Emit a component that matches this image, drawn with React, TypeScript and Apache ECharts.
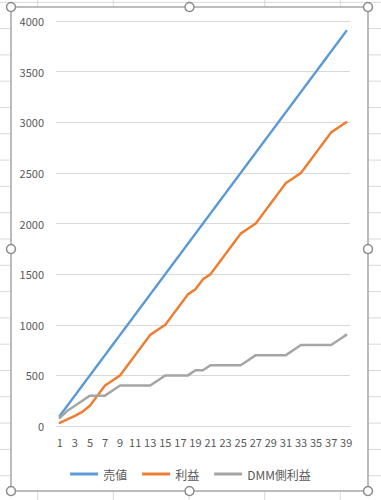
import React, { useEffect, useRef } from "react";
import * as echarts from "echarts";

const categories = ["1","2","3","4","5","6","7","8","9","10","11","12","13","14","15","16","17","18","19","20","21","22","23","24","25","26","27","28","29","30","31","32","33","34","35","36","37","38","39"];
const salesValues = [100,200,300,400,500,600,700,800,900,1000,1100,1200,1300,1400,1500,1600,1700,1800,1900,2000,2100,2200,2300,2400,2500,2600,2700,2800,2900,3000,3100,3200,3300,3400,3500,3600,3700,3800,3900];
const profitValues = [30,65,100,140,200,300,400,450,500,600,700,800,900,950,1000,1100,1200,1300,1350,1450,1500,1600,1700,1800,1900,1950,2000,2100,2200,2300,2400,2450,2500,2600,2700,2800,2900,2950,3000];
const dmmValues = [80,150,200,250,300,300,300,350,400,400,400,400,400,450,500,500,500,500,550,550,600,600,600,600,600,650,700,700,700,700,700,750,800,800,800,800,800,850,900];
const seriesNames = ["売値", "利益", "DMM側利益"];
const seriesColors = ["#5B9BD5", "#ED7D31", "#A5A5A5"];

const FONT = "'Noto Sans CJK JP', 'Noto Sans', sans-serif";

export default function App() {
  const ref = useRef<HTMLDivElement>(null);
  useEffect(() => {
    if (!ref.current) return;
    const chart = echarts.init(ref.current, undefined, { renderer: "svg" });
    const cellLine = "#d9d9d9";
    const graphics: any[] = [];
    const colXs = [37.7, 113.3, 189, 264.7, 340.3];
    colXs.forEach((x) => {
      graphics.push({ type: "line", shape: { x1: x, y1: 0, x2: x, y2: 7 }, style: { stroke: cellLine, lineWidth: 1 }, z: 1 });
      graphics.push({ type: "line", shape: { x1: x, y1: 491, x2: x, y2: 500 }, style: { stroke: cellLine, lineWidth: 1 }, z: 1 });
    });
    graphics.push({ type: "line", shape: { x1: 0, y1: 2.3, x2: 381, y2: 2.3 }, style: { stroke: cellLine, lineWidth: 1 }, z: 1 });
    for (let k = 1; k < 19; k++) {
      const y = 2.3 + 26.3 * k;
      graphics.push({ type: "line", shape: { x1: 0, y1: y, x2: 11, y2: y }, style: { stroke: cellLine, lineWidth: 1 }, z: 1 });
      graphics.push({ type: "line", shape: { x1: 368, y1: y, x2: 381, y2: y }, style: { stroke: cellLine, lineWidth: 1 }, z: 1 });
    }
    graphics.push({ type: "rect", shape: { x: 11, y: 7, width: 357, height: 484 }, style: { fill: "none", stroke: "#a6a6a6", lineWidth: 1.5 }, z: 5 });
    const handles = [[11, 7], [189.5, 7], [368, 7], [11, 249], [368, 249], [11, 491], [189.5, 491], [368, 491]];
    handles.forEach(([cx, cy]) => {
      graphics.push({ type: "circle", shape: { cx, cy, r: 4.5 }, style: { fill: "#ffffff", stroke: "#8c8c8c", lineWidth: 1.5 }, z: 6 });
    });

    chart.setOption({
      animation: false,
      backgroundColor: "#ffffff",
      textStyle: { fontFamily: FONT },
      graphic: graphics,
      grid: { left: 56, right: 31, top: 21, bottom: 74, containLabel: false },
      legend: {
        left: "center",
        top: 463,
        icon: "rect",
        itemWidth: 28,
        itemHeight: 3,
        itemGap: 15,
        textStyle: { color: "#595959", fontSize: 12, fontFamily: FONT },
        data: seriesNames,
      },
      xAxis: {
        type: "category",
        data: categories,
        boundaryGap: true,
        axisLine: { show: true, lineStyle: { color: "#d9d9d9" } },
        axisTick: { show: false },
        axisLabel: { interval: 1, color: "#595959", fontSize: 11, margin: 10, fontFamily: FONT },
        splitLine: { show: false },
      },
      yAxis: {
        type: "value",
        min: 0,
        max: 4000,
        interval: 500,
        axisLine: { show: false },
        axisTick: { show: false },
        axisLabel: { color: "#595959", fontSize: 11, margin: 12, fontFamily: FONT, formatter: (v: number) => String(v) },
        splitLine: { lineStyle: { color: "#d9d9d9", width: 1 } },
      },
      series: [salesValues, profitValues, dmmValues].map((d, i) => ({
        name: seriesNames[i],
        type: "line",
        data: d,
        symbol: "none",
        showSymbol: false,
        color: seriesColors[i],
        lineStyle: { color: seriesColors[i], width: 2.5, join: "round", cap: "round" },
      })),
    });
    return () => chart.dispose();
  }, []);
  return <div ref={ref} style={{ position: "absolute", left: 0, top: 0, width: 381, height: 500 }} />;
}
